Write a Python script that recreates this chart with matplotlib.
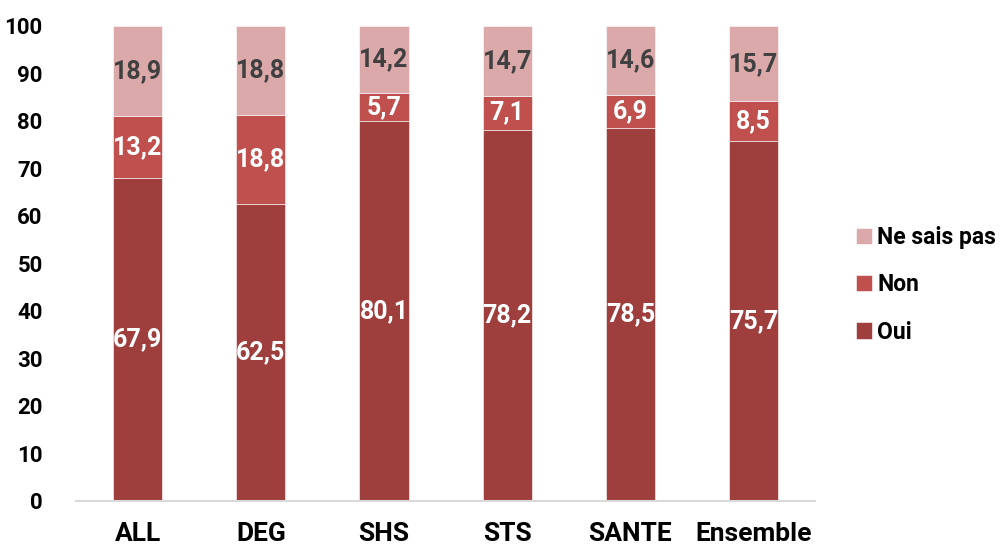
import numpy as np
import matplotlib.pyplot as plt

plt.rcParams['font.family'] = ['Roboto', 'DejaVu Sans']
plt.rcParams['font.weight'] = 'bold'

categories = ['ALL', 'DEG', 'SHS', 'STS', 'SANTE', 'Ensemble']
oui = [67.9, 62.5, 80.1, 78.2, 78.5, 75.7]
non = [13.2, 18.8, 5.7, 7.1, 6.9, 8.5]
nsp = [18.9, 18.8, 14.2, 14.7, 14.6, 15.7]

colors = {'Oui': '#9E3F3E', 'Non': '#C0504D', 'Ne sais pas': '#DBA9A9'}
W = 'bold'

fig = plt.figure(figsize=(10.03, 5.48), dpi=100)
ax = fig.add_axes([0.0758, 0.0858, 0.737, 0.8668])

x = np.arange(len(categories))
w = 0.4
oui_a = np.array(oui)
non_a = np.array(non)
nsp_a = np.array(nsp)

b1 = ax.bar(x, oui_a, w, color=colors['Oui'], edgecolor='white', linewidth=0.4, label='Oui')
b2 = ax.bar(x, non_a, w, bottom=oui_a, color=colors['Non'], edgecolor='white', linewidth=0.4, label='Non')
b3 = ax.bar(x, nsp_a, w, bottom=oui_a + non_a, color=colors['Ne sais pas'], edgecolor='white', linewidth=0.4,
            label='Ne sais pas')

def fmt(v):
    return f'{v:.1f}'.replace('.', ',')

for i in range(len(categories)):
    ax.text(x[i], oui_a[i] / 2, fmt(oui_a[i]), ha='center', va='center', color='white',
            fontsize=18, fontweight=W)
    ax.text(x[i], oui_a[i] + non_a[i] / 2, fmt(non_a[i]), ha='center', va='center', color='white',
            fontsize=18, fontweight=W)
    ax.text(x[i], oui_a[i] + non_a[i] + nsp_a[i] / 2, fmt(nsp_a[i]), ha='center', va='center',
            color='#404040', fontsize=18, fontweight=W)

ax.set_xlim(-0.5, len(categories) - 0.5)
ax.set_ylim(0, 100)
ax.set_yticks(np.arange(0, 101, 10))
ax.set_xticks(x)
ax.set_xticklabels(categories)
ax.tick_params(axis='y', length=0, labelsize=16, pad=24)
ax.tick_params(axis='x', length=0, labelsize=19, pad=15)
for lab in ax.get_xticklabels() + ax.get_yticklabels():
    lab.set_fontweight(W)

for s in ['top', 'right', 'left']:
    ax.spines[s].set_visible(False)
ax.spines['bottom'].set_color('#D9D9D9')
ax.spines['bottom'].set_linewidth(1.5)

leg = fig.legend(handles=[b3, b2, b1], loc='center left', bbox_to_anchor=(0.853, 0.48),
                 frameon=False, fontsize=16.5, handlelength=0.7, handleheight=0.7,
                 handletextpad=0.25, labelspacing=1.05, borderaxespad=0, borderpad=0)
for t in leg.get_texts():
    t.set_fontweight(W)

fig.savefig('out.png', dpi=100)
